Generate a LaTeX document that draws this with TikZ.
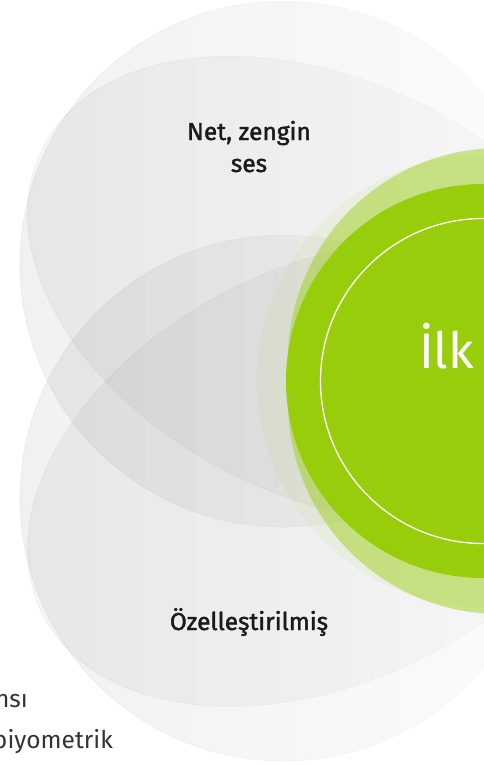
\documentclass[tikz,border=0pt]{standalone}
\usepackage{fontspec}
\setmainfont{Fira Sans}
\newfontfamily\labfont[FakeBold=1.5]{Fira Sans}
\newfontfamily\bigfont{Fira Sans}
\usetikzlibrary{fadings}
\definecolor{lime}{HTML}{97CD0B}
\definecolor{inkc}{HTML}{1A1A1A}
\tikzfading[name=petalfade, left color=transparent!0, right color=transparent!75]
\begin{document}
\begin{tikzpicture}[x=1pt,y=1pt,
  petal/.style={fill=black, fill opacity=0.055, path fading=petalfade, draw=black, draw opacity=0.05, line width=0.6pt},
  halo/.style={fill=lime, fill opacity=0.45},
  lab/.style={font=\labfont\fontsize{24.5}{31}\selectfont, text=inkc, inner sep=0pt},
  side/.style={font=\fontsize{24.5}{31}\selectfont, text=black!80, inner sep=0pt}
]
\useasboundingbox (0,-765) rectangle (484,0);
\fill[white] (0,-765) rectangle (484,0);
\begin{scope}
\clip (0,-765) rectangle (484,0);
% outer petals (circles)
\path[petal] (283,-264) circle[radius=263];
\path[petal] (283,-498) circle[radius=263];
% label petals (rotated ellipses)
\path[petal, fill opacity=0.045, rotate around={-26:(328,-289)}] (328,-289) ellipse[x radius=318, y radius=208];
\path[petal, fill opacity=0.045, rotate around={26:(328,-473)}] (328,-473) ellipse[x radius=318, y radius=208];
% green centre
\path[fill=lime, fill opacity=0.07] (483,-381) circle[radius=226];
\path[halo] (500,-360) circle[radius=212];
\path[halo] (500,-402) circle[radius=212];
\path[fill=lime] (483,-381) circle[radius=197];
\draw[white, line width=1.3pt] (483,-381) circle[radius=162.5];
\end{scope}
% labels
\node[lab, anchor=base] (t1) at (249,-140) {Net, zengin};
\node[lab, anchor=base] (t2) at (249,-172) {ses};
\node[lab, anchor=base] (t3) at (249,-630) {Özelleştirilmiş};
\node[anchor=base west, inner sep=0pt, text=white, font=\bigfont\fontsize{50}{60}\selectfont] (t4) at (419,-368) {İlk};
\node[side, anchor=base east] (t5) at (28,-707) {nsı};
\node[side, anchor=base east] (t6) at (113,-748) {biyometrik};
\end{tikzpicture}
\end{document}
